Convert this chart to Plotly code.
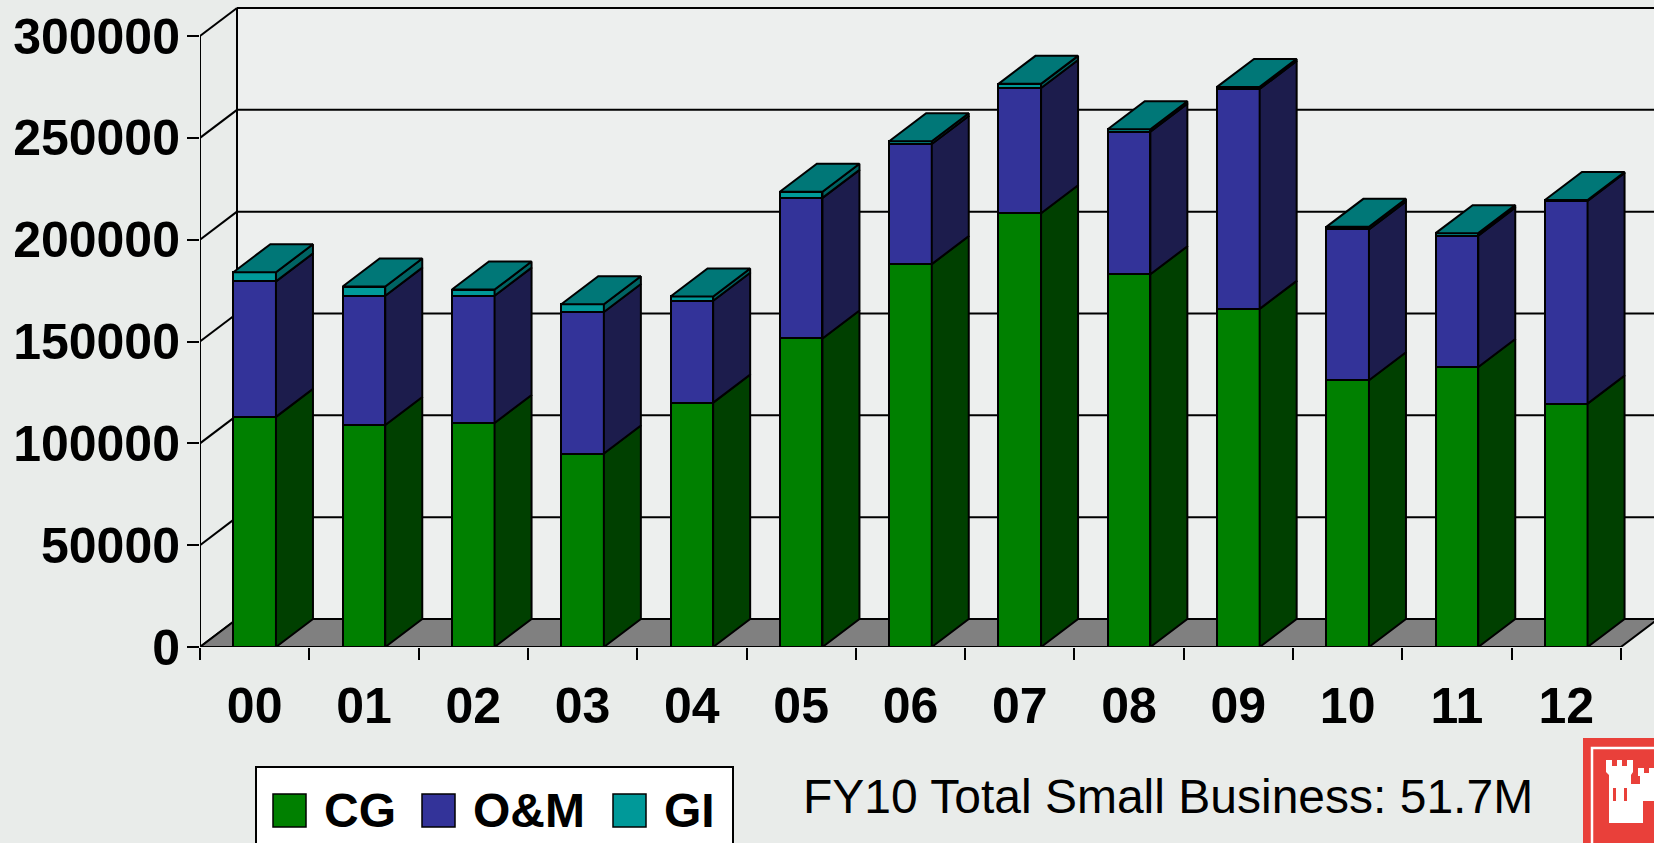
import plotly.graph_objects as go

# ---------------- data ----------------
years = ["00", "01", "02", "03", "04", "05", "06", "07", "08", "09", "10", "11", "12"]
cg = [113000, 109000, 110000, 95000, 120000, 151500, 188000, 213000, 183000, 166000, 131000, 137500, 119500]
om = [66500, 63500, 62500, 69500, 50000, 69000, 59000, 61500, 70000, 108000, 74000, 64500, 99500]
gi = [4500, 4500, 3000, 3800, 2100, 3000, 1300, 2000, 1200, 1000, 1300, 1200, 500]
y_tick_values = [0, 50000, 100000, 150000, 200000, 250000, 300000]
y_tick_labels = ["0", "50000", "100000", "150000", "200000", "250000", "300000"]
series_names = ["CG", "O&M", "GI"]
note_text = "FY10 Total Small Business: 51.7M"

# ---------------- styling / geometry ----------------
FONT = "Liberation Sans, Arial, sans-serif"
BG = "#E9ECEA"
WALL = "#EDEFEE"
FLOOR = "#808080"
FRONT = ["#008000", "#333399", "#009999"]
SIDE = ["#004000", "#1C1C4C", "#006363"]
TOP = "#007777"

W, H = 1654, 843
ML, MR, MT, MB = 200, 0, 6, 196
PW, PH = W - ML - MR, H - MT - MB
CAT_PX = 109.3
X_MIN = -0.5
X_MAX = X_MIN + PW / CAT_PX
UNITS_PER_PX = 300000 / 611.0
Y_MAX = PH * UNITS_PER_PX
DX = 37 / CAT_PX
DY = 28 * UNITS_PER_PX
BAR_W = 0.39
N = len(years)
x_pos = list(range(N))


def px_x(p):
    return (p - ML) / PW


def px_y(p):
    return (H - MB - p) / PH


fig = go.Figure()

# front faces: stacked bars
for vals, name, col in zip([cg, om, gi], series_names, FRONT):
    fig.add_trace(go.Bar(
        x=x_pos, y=vals, name=name, width=BAR_W,
        marker=dict(color=col, line=dict(color="black", width=2)),
        showlegend=False, hoverinfo="skip"))

# side faces and top faces computed from the stacked values
stacks = [cg, om, gi]
for k in range(3):
    xs, ys = [], []
    for i in range(N):
        lo = sum(stacks[j][i] for j in range(k))
        hi = lo + stacks[k][i]
        xr = x_pos[i] + BAR_W / 2
        xs += [xr, xr + DX, xr + DX, xr, xr, None]
        ys += [lo, lo + DY, hi + DY, hi, lo, None]
    fig.add_trace(go.Scatter(
        x=xs, y=ys, mode="lines", fill="toself", fillcolor=SIDE[k],
        line=dict(color="black", width=2), showlegend=False, hoverinfo="skip"))

xs, ys = [], []
for i in range(N):
    t = cg[i] + om[i] + gi[i]
    xl = x_pos[i] - BAR_W / 2
    xr = x_pos[i] + BAR_W / 2
    xs += [xl, xr, xr + DX, xl + DX, xl, None]
    ys += [t, t, t + DY, t + DY, t, None]
fig.add_trace(go.Scatter(
    x=xs, y=ys, mode="lines", fill="toself", fillcolor=TOP,
    line=dict(color="black", width=2), showlegend=False, hoverinfo="skip"))

# ---------------- walls, floor, gridlines ----------------
shapes = []
bx = X_MIN + DX
shapes.append(dict(type="rect", xref="x", yref="y", x0=bx, x1=X_MAX + 1,
                   y0=DY, y1=y_tick_values[-1] + DY, fillcolor=WALL,
                   line=dict(width=0), layer="below"))
for v in y_tick_values[1:]:
    shapes.append(dict(type="line", xref="x", yref="y", x0=bx, x1=X_MAX + 1,
                       y0=v + DY, y1=v + DY, line=dict(color="black", width=2),
                       layer="below"))
for v in y_tick_values:
    shapes.append(dict(type="line", xref="x", yref="y", x0=X_MIN, x1=bx,
                       y0=v, y1=v + DY, line=dict(color="black", width=2),
                       layer="below"))
shapes.append(dict(type="line", xref="x", yref="y", x0=bx, x1=bx,
                   y0=DY, y1=y_tick_values[-1] + DY,
                   line=dict(color="black", width=2), layer="below"))
shapes.append(dict(type="line", xref="x", yref="y", x0=X_MIN, x1=X_MIN,
                   y0=0, y1=y_tick_values[-1],
                   line=dict(color="black", width=2), layer="below"))
x_end = N - 0.5
shapes.append(dict(type="path", xref="x", yref="y",
                   path=f"M {X_MIN} 0 L {x_end} 0 L {x_end + DX} {DY} L {bx} {DY} Z",
                   fillcolor=FLOOR, line=dict(color="black", width=2), layer="below"))

# ---------------- legend (drawn) ----------------
shapes.append(dict(type="rect", xref="paper", yref="paper",
                   x0=px_x(256), x1=px_x(733), y0=px_y(860), y1=px_y(767),
                   fillcolor="white", line=dict(color="black", width=2)))
legend_sq_left = [273, 422, 613]
legend_txt_left = [322, 471, 662]
annotations = []
for name, col, sl, tl in zip(series_names, FRONT, legend_sq_left, legend_txt_left):
    shapes.append(dict(type="rect", xref="paper", yref="paper",
                       x0=px_x(sl), x1=px_x(sl + 33), y0=px_y(827), y1=px_y(794),
                       fillcolor=col, line=dict(color="black", width=1.5)))
    annotations.append(dict(xref="paper", yref="paper", x=px_x(tl), y=px_y(810),
                            xanchor="left", yanchor="middle", showarrow=False,
                            text=name.replace("&", "&amp;"),
                            font=dict(family=FONT, size=48, color="black", weight="bold")))

annotations.append(dict(xref="paper", yref="paper", x=px_x(801), y=px_y(796),
                        xanchor="left", yanchor="middle", showarrow=False,
                        text=note_text,
                        font=dict(family=FONT, size=48, color="black")))

# ---------------- logo ----------------
RED = "#E9403A"
shapes.append(dict(type="rect", xref="paper", yref="paper",
                   x0=px_x(1583), x1=px_x(1680), y0=px_y(870), y1=px_y(738),
                   fillcolor=RED, line=dict(width=0)))
shapes.append(dict(type="rect", xref="paper", yref="paper",
                   x0=px_x(1592), x1=px_x(1680), y0=px_y(860), y1=px_y(748),
                   fillcolor="rgba(0,0,0,0)", line=dict(color="white", width=2.5)))
castle = [(1606, 760), (1612, 760), (1612, 766), (1617, 766), (1617, 760), (1622, 760),
          (1622, 766), (1627, 766), (1627, 760), (1633, 760), (1633, 772), (1631, 775),
          (1631, 784), (1640, 784), (1640, 776), (1638, 776), (1638, 768), (1644, 768),
          (1644, 773), (1649, 773), (1649, 768), (1655, 768), (1655, 823), (1609, 823),
          (1609, 775), (1606, 772)]
path = "M " + " L ".join(f"{px_x(a):.5f},{px_y(b):.5f}" for a, b in castle) + " Z"
shapes.append(dict(type="path", xref="paper", yref="paper", path=path,
                   fillcolor="white", line=dict(width=0)))
for (a0, a1, b0, b1) in [(1613, 1616, 788, 801), (1624, 1627, 788, 801), (1643, 1656, 801, 823)]:
    shapes.append(dict(type="rect", xref="paper", yref="paper",
                       x0=px_x(a0), x1=px_x(a1), y0=px_y(b1), y1=px_y(b0),
                       fillcolor=RED, line=dict(width=0)))

fig.update_layout(
    width=W, height=H,
    margin=dict(l=ML, r=MR, t=MT, b=MB, pad=0),
    paper_bgcolor=BG, plot_bgcolor=BG,
    barmode="stack", bargap=0,
    showlegend=False,
    shapes=shapes, annotations=annotations,
    xaxis=dict(range=[X_MIN, X_MAX], tickvals=x_pos, ticktext=years,
               ticks="", showgrid=False, zeroline=False, showline=False,
               tickfont=dict(family=FONT, size=50, color="black", weight="bold"),
               ticklabelstandoff=25,
               minor=dict(tick0=-0.5, dtick=1, ticks="outside", ticklen=12,
                          tickwidth=2, tickcolor="black", showgrid=False),
               fixedrange=True),
    yaxis=dict(range=[0, Y_MAX], tickvals=y_tick_values, ticktext=y_tick_labels,
               ticks="outside", ticklen=12, tickwidth=2, tickcolor="black",
               showgrid=False, zeroline=False, showline=False,
               tickfont=dict(family=FONT, size=50, color="black", weight="bold"),
               ticklabelstandoff=-3, fixedrange=True),
)

fig.write_html("out.html", config={"displayModeBar": False},
               post_script="document.body.style.margin='0';document.body.style.overflow='hidden';")
